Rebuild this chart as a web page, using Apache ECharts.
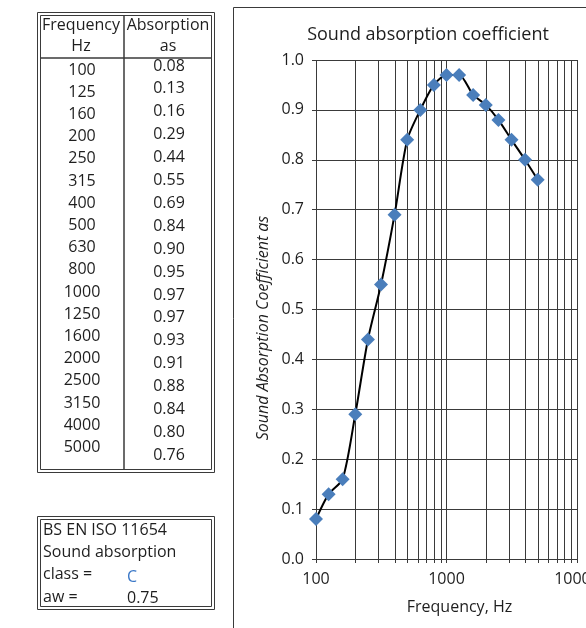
<!DOCTYPE html>
<html><head><meta charset="utf-8">
<script src="https://cdn.jsdelivr.net/npm/echarts@6/dist/echarts.min.js"></script>
<style>html,body{margin:0;padding:0;background:#fff}#c{width:586px;height:628px}</style>
</head><body><div id="c"></div>
<script>
const frequencies = [100,125,160,200,250,315,400,500,630,800,1000,1250,1600,2000,2500,3150,4000,5000];
const absorption = [0.08,0.13,0.16,0.29,0.44,0.55,0.69,0.84,0.90,0.95,0.97,0.97,0.93,0.91,0.88,0.84,0.80,0.76];
const minorGrid = [200,300,400,500,600,700,800,900,2000,3000,4000,5000,6000,7000,8000,9000];
const classLabel = 'C';
const awValue = '0.75';

const FONT = '"Open Sans", "Noto Sans", sans-serif';
const GRID = '#3a3a3a';
const TXT = '#1e1e1e';

const chart = echarts.init(document.getElementById('c'), null, {renderer:'canvas'});

const g = [];
function txt(x,y,s,opt,extra){ g.push(Object.assign({type:'text',x:x,y:y,silent:true,style:Object.assign({text:s,font:'16px '+FONT,fill:TXT,textAlign:'center',textVerticalAlign:'middle'},opt||{})},extra||{})); }
function rect(x,y,w,h,lw){ g.push({type:'rect',shape:{x:x,y:y,width:w,height:h},silent:true,style:{fill:'none',stroke:GRID,lineWidth:lw||1}}); }
function line(x1,y1,x2,y2,lw){ g.push({type:'line',shape:{x1:x1,y1:y1,x2:x2,y2:y2},silent:true,style:{stroke:GRID,lineWidth:lw||1}}); }

// chart frame
rect(233.5,7.5,400,700,1);
// table
rect(37.5,12.5,177,460,1); rect(40.5,15.5,171,454,1);
line(41,58,211,58,1.5);
line(124,16,124,469,1.5);
txt(81,25,'Frequency'); txt(81,46,'Hz');
txt(168,25,'Absorption'); txt(168,46,'as');
frequencies.forEach((f,i)=>txt(82,70+i*22.2,String(f)));
absorption.forEach((a,i)=>txt(169,66+i*22.9,a.toFixed(2)));
// class box
rect(37.5,516.5,177,93,1); rect(40.5,519.5,171,87,1);
txt(43,530,'BS EN ISO 11654',{textAlign:'left'});
txt(43,552,'Sound absorption',{textAlign:'left'});
txt(43,574,'class =',{textAlign:'left'});
txt(127,577,classLabel,{textAlign:'left',fill:'#3b78c7'});
txt(43,597,'aw =',{textAlign:'left'});
txt(127,598,awValue,{textAlign:'left'});
// y axis title
txt(263,328,'Sound Absorption Coefficient as',{font:'italic 16px '+FONT},{rotation:Math.PI/2});

chart.setOption({
  animation:false,
  textStyle:{fontFamily:FONT},
  title:{text:'Sound absorption coefficient',left:423,top:21,textAlign:'center',textStyle:{fontFamily:FONT,fontSize:18,fontWeight:'normal',color:TXT}},
  grid:{left:316,right:9,top:60,bottom:69,containLabel:false,outerBoundsMode:'none'},
  xAxis:{type:'log',logBase:10,min:100,max:10000,
    name:'Frequency, Hz',nameLocation:'middle',nameGap:40,nameTextStyle:{fontFamily:FONT,fontSize:16,color:TXT,padding:[0,0,0,26]},
    axisLine:{show:true,lineStyle:{color:GRID,width:1}},
    axisTick:{show:true,length:4,lineStyle:{color:GRID}},
    axisLabel:{fontFamily:FONT,fontSize:16,color:TXT,margin:12,alignMaxLabel:'center',alignMinLabel:'center',hideOverlap:false,formatter:v=>String(Math.round(v))},
    splitLine:{show:true,lineStyle:{color:GRID,width:1}}},
  yAxis:{type:'value',min:0,max:1,interval:0.1,
    axisLine:{show:false},
    axisTick:{show:true,length:4,lineStyle:{color:GRID}},
    axisLabel:{fontFamily:FONT,fontSize:16,color:TXT,margin:12,formatter:v=>v.toFixed(1)},
    splitLine:{show:true,lineStyle:{color:GRID,width:1}}},
  series:[
    {type:'custom',silent:true,clip:false,data:minorGrid.map(v=>[v]),z:1,
     renderItem:function(params,api){
       const top=api.coord([api.value(0),1]);
       const bot=api.coord([api.value(0),0]);
       const x=Math.round(top[0])+0.5;
       return {type:'line',shape:{x1:x,y1:top[1],x2:x,y2:bot[1]+4},style:{stroke:GRID,lineWidth:1}};
     }},
    {type:'line',smooth:0.25,data:frequencies.map((f,i)=>[f,absorption[i]]),
     lineStyle:{color:'#000',width:2},symbol:'diamond',symbolSize:14,
     itemStyle:{color:'#4a7ebb',borderWidth:0},z:5}
  ],
  graphic:g
});
</script></body></html>
